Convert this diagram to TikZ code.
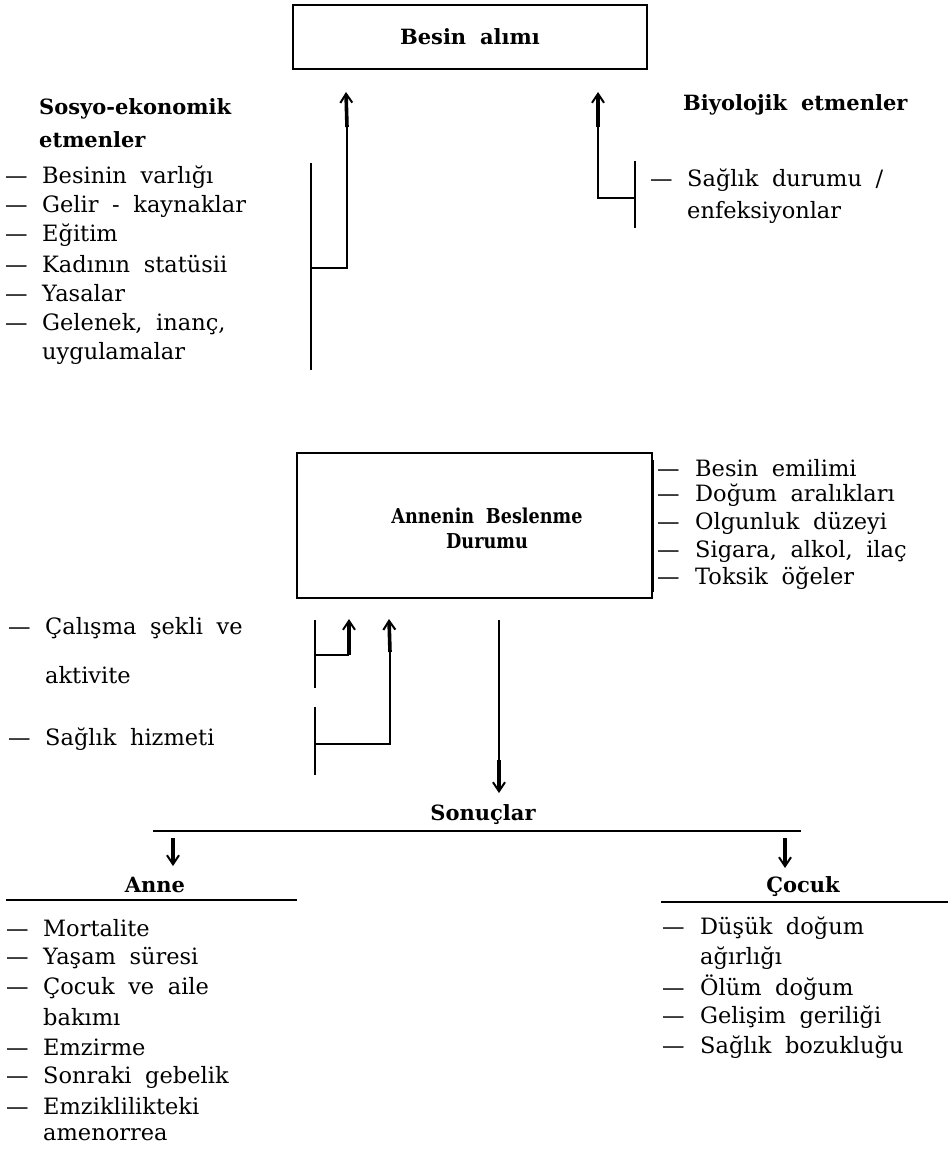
\documentclass[tikz,border=0pt]{standalone}
\usepackage{fontspec}
\setmainfont{DejaVu Serif}[WordSpace=1.9]
\usetikzlibrary{arrows.meta}
\newcommand\dsh{\makebox[37pt][l]{—}}
\newcommand\rdsh{\makebox[38pt][l]{—}}
\newcommand\cond[1]{\scalebox{0.86}[1]{#1}}
\begin{document}
\begin{tikzpicture}[x=1pt,y=-1pt,
  txt/.style={font=\fontsize{22.5}{27}\selectfont, inner sep=0pt, anchor=west},
  btxt/.style={font=\fontsize{21}{25}\selectfont\bfseries, inner sep=0pt},
  boxn/.style={draw, line width=2.4pt, inner sep=0pt},
  ln/.style={line width=2pt},
  arr/.style={line width=3.6pt, -{Straight Barb[length=9pt,width=12pt,line width=2pt]}},
]
\useasboundingbox[fill=white] (0,0) rectangle (948,1149);

% ---- top box
\node[boxn, btxt, minimum width=354pt, minimum height=64pt] (besin) at (470,37) {Besin alımı};

% ---- socio-economic
\node[btxt, anchor=west] (sosyo1) at (39,109) {Sosyo-ekonomik};
\node[btxt, anchor=west] (sosyo2) at (39,140) {etmenler};
\node[txt] (s1) at (5,177) {\dsh Besinin varlığı};
\node[txt] (s2) at (5,206) {\dsh Gelir - kaynaklar};
\node[txt] (s3) at (5,235) {\dsh Eğitim};
\node[txt] (s4) at (5,264) {\dsh Kadının statüsii};
\node[txt] (s5) at (5,293) {\dsh Yasalar};
\node[txt] (s6) at (5,324) {\dsh Gelenek, inanç,};
\node[txt] (s6b) at (42,353) {uygulamalar};

\coordinate (sbT) at (311,163);
\coordinate (sbB) at (311,370);
\coordinate (sJ) at (311,268);
\coordinate (sE) at (347,268);
\coordinate (sH) at (347,127);
\coordinate (sTip) at (346,92);
\draw[ln] (sbT) -- (sbB);
\draw[ln] (sJ) -- (sE) -- (sH);
\draw[arr] (sH) -- (sTip);

% ---- biological
\node[btxt, anchor=west] (bio) at (683,105) {Biyolojik etmenler};
\node[txt] (b1) at (650,180) {\makebox[37pt][l]{—}Sağlık durumu /};
\node[txt] (b1b) at (687,212) {enfeksiyonlar};
\coordinate (bbT) at (635,161);
\coordinate (bbB) at (635,228);
\coordinate (bJ) at (635,198);
\coordinate (bE) at (598,198);
\coordinate (bH) at (598,127);
\coordinate (bTip) at (598,92);
\draw[ln] (bbT) -- (bbB);
\draw[ln] (bJ) -- (bE) -- (bH);
\draw[arr] (bH) -- (bTip);

% ---- maternal nutrition box
\node[boxn, minimum width=355pt, minimum height=145pt] (anneBox) at (474.5,525.5) {};
\node[btxt, align=center, font=\fontsize{20.5}{25}\selectfont\bfseries] (anneTxt) at (487,528) {\cond{Annenin Beslenme}\\\cond{Durumu}};
\coordinate (rbT) at (653,460);
\coordinate (rbB) at (653,592);
\draw[ln] (rbT) -- (rbB);
\node[txt] (r1) at (657,468) {\rdsh Besin emilimi};
\node[txt] (r2) at (657,495) {\rdsh Doğum aralıkları};
\node[txt] (r3) at (657,523) {\rdsh Olgunluk düzeyi};
\node[txt] (r4) at (657,551) {\rdsh Sigara, alkol, ilaç};
\node[txt] (r5) at (657,578) {\rdsh Toksik öğeler};

% ---- work / health service
\node[txt] (w1) at (8,628) {\dsh Çalışma şekli ve};
\node[txt] (w1b) at (45,675) {aktivite};
\node[txt] (w2) at (8,739) {\dsh Sağlık hizmeti};

\coordinate (cbT1) at (315,620);
\coordinate (cbB1) at (315,688);
\coordinate (cbT2) at (315,707);
\coordinate (cbB2) at (315,775);
\draw[ln] (cbT1) -- (cbB1);
\draw[ln] (cbT2) -- (cbB2);
\coordinate (c1J) at (315,655);
\coordinate (c1E) at (349,655);
\coordinate (c1Tip) at (349,619);
\draw[ln] (c1J) -- (c1E);
\draw[arr] (c1E) -- (c1Tip);
\coordinate (c2J) at (315,744);
\coordinate (c2E) at (390,744);
\coordinate (c2H) at (390,652);
\coordinate (c2Tip) at (389,619);
\draw[ln] (c2J) -- (c2E) -- (c2H);
\draw[arr] (c2H) -- (c2Tip);

% ---- down to results
\coordinate (dT) at (499,620);
\coordinate (dH) at (499,760);
\coordinate (dTip) at (499,793);
\draw[ln] (dT) -- (dH);
\draw[arr] (dH) -- (dTip);

\node[btxt] (sonuc) at (483,815) {Sonuçlar};
\coordinate (sonL) at (153,831);
\coordinate (sonR) at (801,831);
\draw[ln] (sonL) -- (sonR);

% ---- mother
\coordinate (aA) at (173,838);
\coordinate (aTip) at (173,866);
\draw[arr] (aA) -- (aTip);
\node[btxt] (anne) at (155,885) {Anne};
\coordinate (aUL) at (6,900);
\coordinate (aUR) at (297,900);
\draw[ln] (aUL) -- (aUR);
\node[txt] (m1) at (6,928) {\dsh Mortalite};
\node[txt] (m2) at (6,958) {\dsh Yaşam süresi};
\node[txt] (m3) at (6,988) {\dsh Çocuk ve aile};
\node[txt] (m3b) at (43,1017) {bakımı};
\node[txt] (m4) at (6,1047) {\dsh Emzirme};
\node[txt] (m5) at (6,1077) {\dsh Sonraki gebelik};
\node[txt] (m6) at (6,1106) {\dsh Emziklilikteki};
\node[txt] (m6b) at (43,1135) {amenorrea};

% ---- child
\coordinate (cA) at (785,838);
\coordinate (cTip) at (785,868);
\draw[arr] (cA) -- (cTip);
\node[btxt] (cocuk) at (803,887) {Çocuk};
\coordinate (cUL) at (661,902);
\coordinate (cUR) at (948,902);
\draw[ln] (cUL) -- (cUR);
\node[txt] (k1) at (662,928) {\rdsh Düşük doğum};
\node[txt] (k1b) at (700,958) {ağırlığı};
\node[txt] (k2) at (662,988) {\rdsh Ölüm doğum};
\node[txt] (k3) at (662,1017) {\rdsh Gelişim geriliği};
\node[txt] (k4) at (662,1047) {\rdsh Sağlık bozukluğu};
\end{tikzpicture}
\end{document}
